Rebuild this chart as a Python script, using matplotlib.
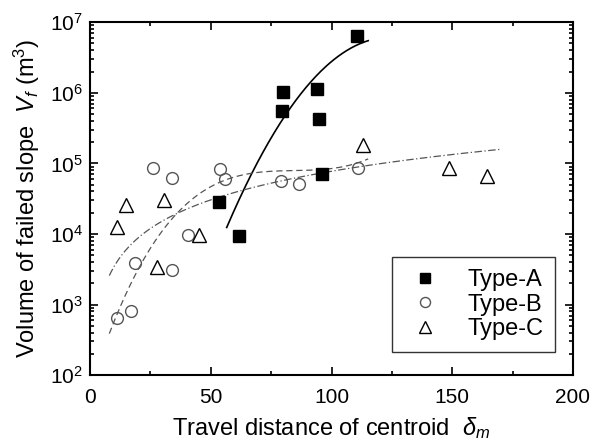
import matplotlib.pyplot as plt
import numpy as np
from matplotlib.ticker import MultipleLocator, LogLocator, NullFormatter

plt.rcParams['font.family'] = ['Liberation Sans', 'DejaVu Sans']
plt.rcParams['mathtext.fontset'] = 'custom'
plt.rcParams['mathtext.rm'] = 'Liberation Sans'
plt.rcParams['mathtext.it'] = 'Liberation Sans:italic'

# data
xa = [110.4, 93.8, 95.0, 95.9, 79.9, 79.5, 53.4, 61.7]
va = [6.4e6, 1.12e6, 4.2e5, 7.0e4, 1.03e6, 5.5e5, 2.8e4, 9.5e3]

xb = [26.2, 34.1, 53.8, 56.0, 79.1, 86.5, 110.8, 40.4, 18.6, 34.1, 17.0, 11.3]
vb = [8.6e4, 6.2e4, 8.3e4, 6.1e4, 5.6e4, 5.1e4, 8.6e4, 9.7e3, 3.9e3, 3.1e3, 8.1e2, 6.5e2]

xc = [15.0, 30.5, 11.0, 45.1, 27.9, 113.2, 148.8, 164.2]
vc = [2.56e4, 3.0e4, 1.25e4, 9.8e3, 3.4e3, 1.85e5, 8.6e4, 6.65e4]

# trend curves
ca_x = [56.6, 66.3, 80.0, 93.9, 115.2]
ca_v = [1.2e4, 6.4e4, 5.1e5, 1.5e6, 5.7e6]
cb_x = [8.0, 17.9, 33.1, 66.3, 82.8, 115.2]
cb_v = [4.1e2, 2.0e3, 1.75e4, 6.4e4, 8.5e4, 1.15e5]
cc_x = [8.0, 17.9, 34.5, 55.2, 78.7, 110.4, 170.5]
cc_v = [2.4e3, 7.7e3, 1.95e4, 3.9e4, 5.5e4, 8.6e4, 1.49e5]


def smooth(x, v, deg):
    p = np.polyfit(x, np.log10(v), deg)
    xs = np.linspace(min(x), max(x), 200)
    return xs, 10 ** np.polyval(p, xs)


fig = plt.figure(figsize=(6, 4.44), dpi=100)
ax = fig.add_axes([0.15, 0.155, 0.805, 0.795])

xs, ys = smooth(ca_x, ca_v, 2)
ax.plot(xs, ys, color='black', lw=1.2)
xs, ys = smooth(cb_x, cb_v, 3)
ax.plot(xs, ys, color='#555555', lw=0.9, ls=(0, (5, 3)))
xs, ys = smooth(np.log10(cc_x), cc_v, 1)
ax.plot(10 ** xs, ys, color='#555555', lw=0.9, ls=(0, (6, 2, 1, 2)))

ax.plot(xa, va, 's', ms=8, mfc='black', mec='black', ls='none', label='Type-A')
ax.plot(xb, vb, 'o', ms=8.5, mfc='none', mec='#555555', mew=1.0, ls='none', label='Type-B')
ax.plot(xc, vc, '^', ms=10, mfc='none', mec='black', mew=1.0, ls='none', label='Type-C')

ax.set_xlim(0, 200)
ax.set_yscale('log')
ax.set_ylim(1e2, 1e7)
ax.xaxis.set_major_locator(MultipleLocator(50))
ax.xaxis.set_minor_locator(MultipleLocator(25))
ax.yaxis.set_major_locator(LogLocator(base=10, numticks=10))
ax.yaxis.set_minor_locator(LogLocator(base=10, subs=np.arange(2, 10), numticks=10))
ax.yaxis.set_minor_formatter(NullFormatter())
ax.tick_params(which='both', direction='in', top=True, right=True, labelsize=15, width=1.2)
ax.tick_params(which='major', length=6)
ax.tick_params(which='minor', length=3)
ax.tick_params(axis='x', pad=9)
ax.tick_params(axis='y', pad=5)
for s in ax.spines.values():
    s.set_linewidth(1.5)

ax.set_xlabel(r'Travel distance of centroid  $\delta_m$', fontsize=17, labelpad=6)
ax.set_ylabel(r'Volume of failed slope  $V_f$ (m$^3$)', fontsize=17, labelpad=6)

leg = ax.legend(loc='lower right', bbox_to_anchor=(0.963, 0.065), borderaxespad=0,
                fontsize=17, frameon=True, fancybox=False, edgecolor='black',
                handletextpad=0.9, borderpad=0.5, labelspacing=0.12,
                markerscale=0.85, handlelength=1.8)
leg.get_frame().set_linewidth(1.0)

fig.savefig('out.png', dpi=100)
